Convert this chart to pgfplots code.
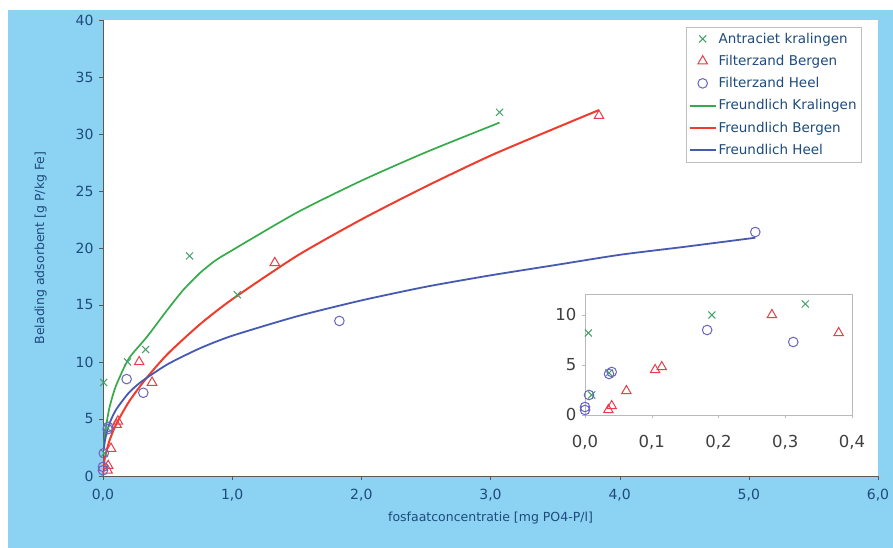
\documentclass[border=0pt]{standalone}
\usepackage{fontspec}
\setmainfont{DejaVu Sans}
\usepackage{pgfplots}
\pgfplotsset{compat=1.18}
\definecolor{bgblue}{RGB}{140,210,242}
\definecolor{txtblue}{RGB}{30,75,125}
\definecolor{kxgreen}{RGB}{70,160,105}
\definecolor{trired}{RGB}{232,62,75}
\definecolor{circblue}{RGB}{105,100,190}
\definecolor{lgreen}{RGB}{55,170,75}
\definecolor{lred}{RGB}{238,60,45}
\definecolor{lblue}{RGB}{70,90,178}

\pgfplotsset{
  linelegend/.style={legend image code/.code={\draw[##1, line width=1.8bp] (0bp,0bp) -- (26bp,0bp);}},
  marklegend/.style={legend image code/.code={\draw[##1] plot coordinates {(13bp,0bp)};}},
  commaone/.style={/pgf/number format/use comma, /pgf/number format/fixed,
    /pgf/number format/fixed zerofill, /pgf/number format/precision=1},
}

% scatter data
\pgfplotstableread{
x y
0.005 8.2
0.010 2.0
0.036 4.2
0.19 10.0
0.33 11.1
0.67 19.3
1.04 15.9
3.07 31.9
}\kral
\pgfplotstableread{
x y
0.035 0.5
0.040 0.9
0.062 2.4
0.105 4.5
0.115 4.8
0.28 10.0
0.38 8.2
1.33 18.7
3.84 31.6
}\bergen
\pgfplotstableread{
x y
0.000 0.5
0.000 0.8
0.006 2.0
0.036 4.1
0.040 4.3
0.183 8.5
0.312 7.3
1.83 13.6
5.05 21.4
}\heel

\begin{document}
\begin{tikzpicture}[x=1bp,y=1bp]
\useasboundingbox (0,0) rectangle (893,548);
\fill[white] (0,0) rectangle (893,548);
\fill[bgblue] (8,0) rectangle (893,538);

\begin{axis}[
  at={(103bp,72bp)}, anchor=origin,
  scale only axis, width=775bp, height=456bp,
  xmin=0, xmax=6, ymin=0, ymax=40,
  axis x line*=bottom, axis y line*=left,
  axis background/.style={fill=white},
  axis line style={draw=gray!70!black, line width=0.8bp},
  xtick={0,1,...,6}, ytick={0,5,...,40},
  tick align=outside, major tick length=4bp,
  tick style={gray!70!black},
  /pgf/number format/assume math mode=true,
  ticklabel style={font=\fontsize{14bp}{16bp}\selectfont, text=txtblue},
  yticklabel style={xshift=-2bp},
  xticklabel style={commaone, yshift=-6bp},
  xlabel={fosfaatconcentratie [mg PO4-P/l]},
  ylabel={Belading adsorbent [g P/kg Fe]},
  label style={font=\fontsize{12.5bp}{15bp}\selectfont, text=txtblue},
  xlabel style={yshift=-4bp},
  ylabel style={yshift=22bp},
  legend style={at={(0.979,0.985)}, anchor=north east, draw=gray!50, fill=white,
    font=\fontsize{13.5bp}{16bp}\selectfont, text=txtblue, row sep=6.5bp,
    inner xsep=3bp, inner ysep=4bp},
  legend cell align=left,
]
\addplot[only marks, mark=x, mark size=5bp, color=kxgreen, line width=1bp, marklegend] table {\kral};
\addlegendentry{Antraciet kralingen}
\addplot[only marks, mark=triangle, mark size=5.5bp, color=trired, line width=1bp, marklegend] table {\bergen};
\addlegendentry{Filterzand Bergen}
\addplot[only marks, mark=o, mark size=4.8bp, color=circblue, line width=1bp, marklegend] table {\heel};
\addlegendentry{Filterzand Heel}
\addplot[lgreen, line width=1.7bp, smooth, tension=0.4, linelegend] coordinates {
  (0.005,2.4)(0.01,3.1)(0.02,4.1)(0.05,6.0)(0.1,7.9)(0.2,10.3)(0.34,12.2)
  (0.5,14.6)(0.62,16.3)(0.75,17.8)(0.87,18.9)(1.0,19.8)(1.5,23.1)(2.0,25.9)
  (2.5,28.4)(3.07,31.0)};
\addlegendentry{Freundlich Kralingen}
\addplot[lred, line width=2bp, smooth, tension=0.4, linelegend] coordinates {
  (0.005,0.9)(0.01,1.3)(0.02,1.9)(0.05,3.1)(0.1,4.5)(0.2,6.5)(0.33,8.5)
  (0.5,10.7)(0.75,13.3)(1.0,15.5)(1.5,19.3)(2.0,22.5)(2.5,25.4)(3.0,28.1)
  (3.5,30.5)(3.84,32.1)};
\addlegendentry{Freundlich Bergen}
\addplot[lblue, line width=1.8bp, smooth, tension=0.4, linelegend] coordinates {
  (0.005,2.2)(0.01,2.7)(0.02,3.4)(0.05,4.6)(0.1,5.8)(0.2,7.3)(0.3,8.3)
  (0.5,9.8)(0.75,11.2)(1.0,12.3)(1.5,14.0)(2.0,15.4)(2.5,16.6)(3.0,17.6)
  (3.5,18.5)(4.0,19.4)(4.5,20.1)(5.05,20.9)};
\addlegendentry{Freundlich Heel}
\end{axis}

% inset
\begin{axis}[
  at={(585bp,133bp)}, anchor=origin,
  scale only axis, width=267bp, height=121bp,
  xmin=0, xmax=0.4, ymin=0, ymax=12.1,
  axis line style={draw=gray!55, line width=0.7bp},
  xtick={0,0.1,...,0.4}, ytick={0,5,10},
  tick align=outside, major tick length=3bp,
  tick style={gray!55},
  xtick pos=bottom, ytick pos=left,
  /pgf/number format/assume math mode=true,
  ticklabel style={font=\fontsize{16.5bp}{19bp}\selectfont, text=black!75},
  xticklabel style={commaone, yshift=-14bp},
  yticklabel style={xshift=-2bp},
  clip=false,
]
\addplot[only marks, mark=x, mark size=5bp, color=kxgreen, line width=1bp] table {\kral};
\addplot[only marks, mark=triangle, mark size=5.5bp, color=trired, line width=1bp] table {\bergen};
\addplot[only marks, mark=o, mark size=4.8bp, color=circblue, line width=1bp] table {\heel};
\end{axis}
\end{tikzpicture}
\end{document}
